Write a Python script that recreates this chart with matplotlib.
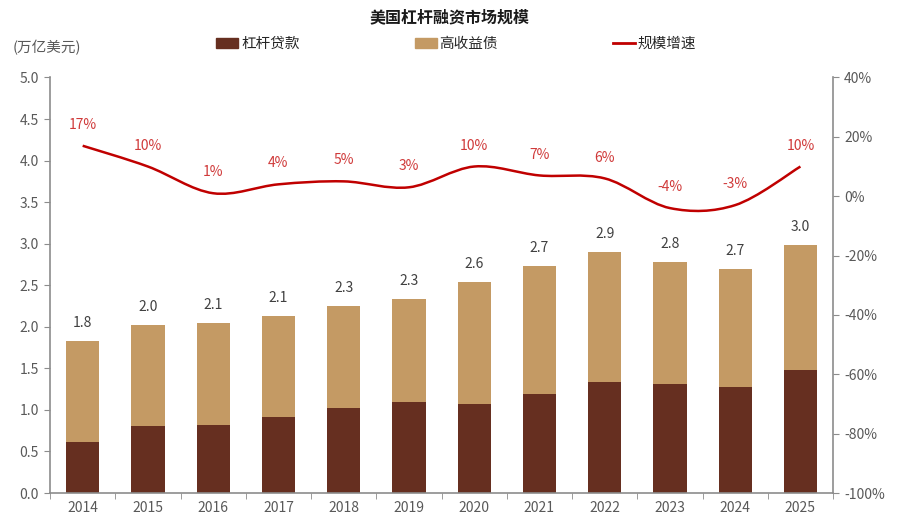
import matplotlib
matplotlib.use("Agg")
import matplotlib.pyplot as plt
import numpy as np
from matplotlib.path import Path
from matplotlib.patches import PathPatch, Patch
from matplotlib.lines import Line2D

plt.rcParams['font.family'] = ['Noto Sans CJK SC', 'DejaVu Sans']

years = ['2014', '2015', '2016', '2017', '2018', '2019', '2020', '2021', '2022', '2023', '2024', '2025']
leveraged_loans = [0.61, 0.81, 0.82, 0.92, 1.02, 1.10, 1.07, 1.19, 1.34, 1.31, 1.27, 1.48]
totals = [1.83, 2.02, 2.05, 2.13, 2.25, 2.33, 2.54, 2.73, 2.90, 2.78, 2.70, 2.98]
total_labels = ['1.8', '2.0', '2.1', '2.1', '2.3', '2.3', '2.6', '2.7', '2.9', '2.8', '2.7', '3.0']
growth = [17, 10, 1, 4, 5, 3, 10, 7, 6, -4, -3, 10]

high_yield = [t - l for t, l in zip(totals, leveraged_loans)]

C_LOAN = '#662F20'
C_HY = '#C49A64'
C_LINE = '#C00000'
C_TXT = '#595959'
C_AX = '#8C8C8C'

fig = plt.figure(figsize=(9, 5.26), dpi=100)
ax = fig.add_axes([0.0556, 0.0627, 0.870, 0.790])
x = np.arange(len(years))
w = 0.51
ax.bar(x, leveraged_loans, w, color=C_LOAN, zorder=2)
ax.bar(x, high_yield, w, bottom=leveraged_loans, color=C_HY, zorder=2)
for xi, t, lab in zip(x, totals, total_labels):
    ax.annotate(lab, (xi, t), xytext=(0, 8), textcoords='offset points',
                ha='center', va='bottom', fontsize=10, color='#404040')

ax.set_xlim(-0.5, len(years) - 0.5)
ax.set_ylim(0, 5.0)
ax.set_yticks(np.arange(0, 5.01, 0.5))
ax.set_yticklabels([f'{v:.1f}' for v in np.arange(0, 5.01, 0.5)])
ax.set_xticks(x)
ax.set_xticklabels(years)
ax.set_xticks(np.arange(-0.5, len(years), 1), minor=True)
ax.tick_params(axis='x', which='major', length=0, pad=6, labelsize=10, labelcolor=C_TXT)
ax.tick_params(axis='x', which='minor', length=4, color=C_AX, direction='out')
ax.tick_params(axis='y', length=4, color=C_AX, labelsize=10, labelcolor=C_TXT, pad=4)
for s in ['top', 'right']:
    ax.spines[s].set_visible(False)
for s in ['left', 'bottom']:
    ax.spines[s].set_color(C_AX)
    ax.spines[s].set_linewidth(1.2)

ax2 = ax.twinx()
ax2.set_ylim(-100, 40)
ax2.set_yticks(np.arange(-100, 41, 20))
ax2.set_yticklabels([f'{v}%' for v in range(-100, 41, 20)])
ax2.tick_params(axis='y', length=4, color=C_AX, labelsize=10, labelcolor=C_TXT, pad=4)
for s in ['top', 'left', 'bottom']:
    ax2.spines[s].set_visible(False)
ax2.spines['right'].set_color(C_AX)
ax2.spines['right'].set_linewidth(1.2)

# smooth curve through the growth points (Catmull-Rom as cubic Bezier)
pts = np.column_stack([x, growth]).astype(float)
verts = [tuple(pts[0])]
codes = [Path.MOVETO]
n = len(pts)
for i in range(n - 1):
    p0 = pts[i - 1] if i > 0 else pts[i]
    p1 = pts[i]
    p2 = pts[i + 1]
    p3 = pts[i + 2] if i + 2 < n else pts[i + 1]
    c1 = p1 + (p2 - p0) / 6.0
    c2 = p2 - (p3 - p1) / 6.0
    verts += [tuple(c1), tuple(c2), tuple(p2)]
    codes += [Path.CURVE4] * 3
ax2.add_patch(PathPatch(Path(verts, codes), facecolor='none', edgecolor=C_LINE, lw=1.8, zorder=3))
for xi, g in zip(x, growth):
    ax2.annotate(f'{g}%', (xi, g), xytext=(0, 10), textcoords='offset points',
                 ha='center', va='bottom', fontsize=10, color='#D03A3A')

fig.text(0.5, 0.967, '美国杠杆融资市场规模', ha='center', va='center', fontsize=11.5,
         fontweight='bold', color='#1a1a1a')
fig.text(0.014, 0.910, '(万亿美元)', ha='left', va='center', fontsize=10.5, color=C_TXT)

handles = [Patch(color=C_LOAN), Patch(color=C_HY), Line2D([0], [0], color=C_LINE, lw=2)]
labels = ['杠杆贷款', '高收益债', '规模增速']
leg = fig.legend(handles, labels, loc='center', bbox_to_anchor=(0.507, 0.916), ncol=3,
                 frameon=False, fontsize=10.5, handlelength=1.5, handleheight=0.6,
                 handletextpad=0.2, columnspacing=7.9)
for t in leg.get_texts():
    t.set_color('#262626')

fig.savefig('out.png', dpi=100)
